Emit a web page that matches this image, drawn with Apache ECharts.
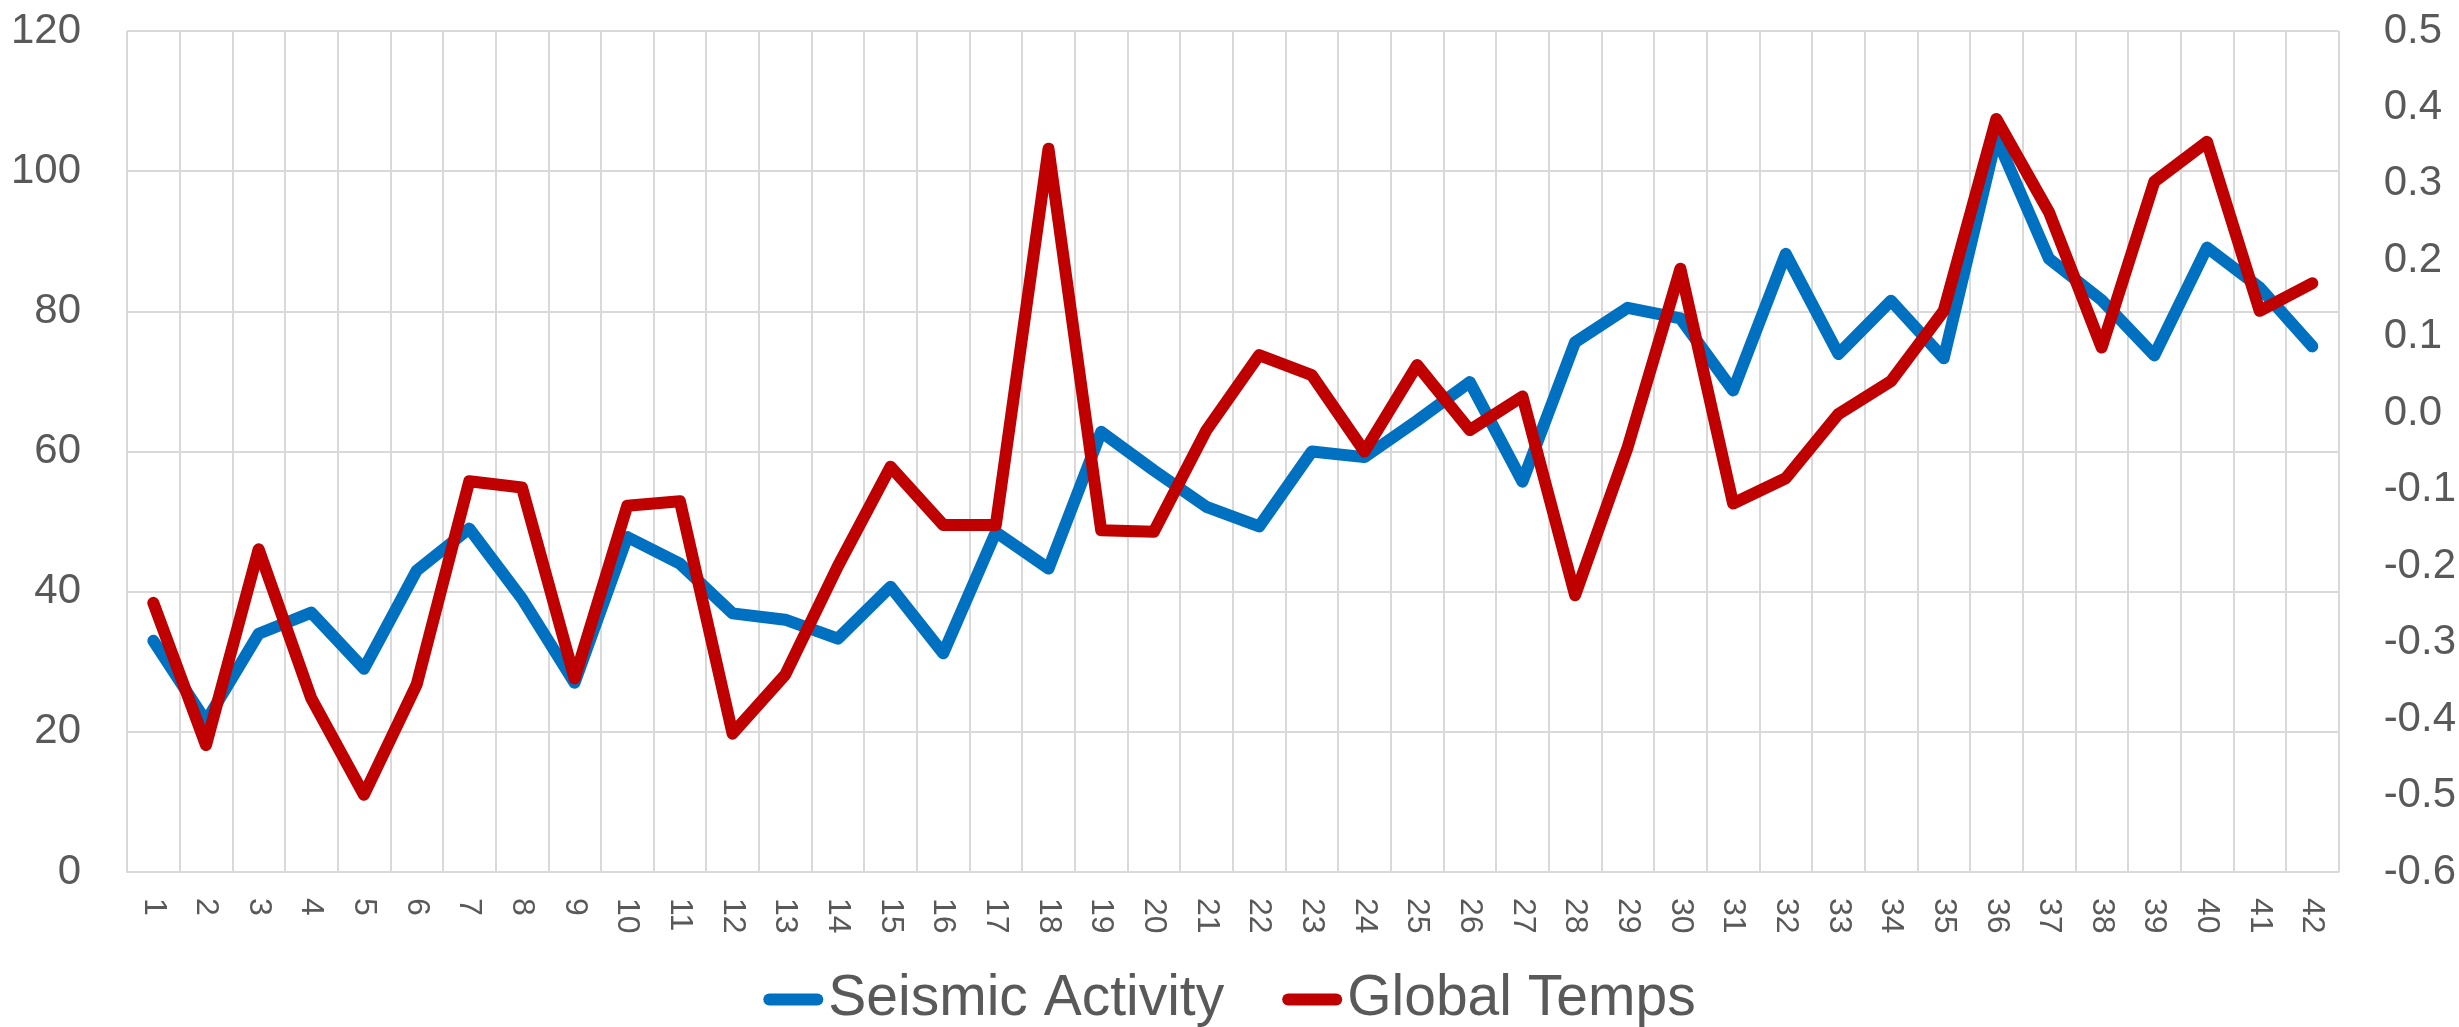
<!DOCTYPE html>
<html>
<head>
<meta charset="utf-8">
<script src="https://cdn.jsdelivr.net/npm/echarts@6/dist/echarts.min.js"></script>
<style>
  html, body { margin: 0; padding: 0; background: #ffffff; }
  #chart { width: 2459px; height: 1027px; }
</style>
</head>
<body>
<div id="chart"></div>
<script>
const categories = Array.from({ length: 42 }, (_, i) => String(i + 1));
const seismicActivity = [
  33, 21.5, 34, 37, 29, 43, 49, 39, 27, 47.8, 44, 36.9, 36, 33.3, 40.7, 31.2, 48.5, 43.3,
  62.8, 57.3, 52.1, 49.3, 60, 59.2, 64.4, 69.9, 55.7, 75.6, 80.5, 79, 68.7, 88.2,
  73.9, 81.5, 73.3, 104.8, 87.5, 81.6, 73.7, 89.1, 83.4, 75
];
const globalTemps = [
  -0.248, -0.434, -0.178, -0.373, -0.499, -0.355, -0.089, -0.097, -0.347, -0.121, -0.115,
  -0.419, -0.342, -0.2, -0.07, -0.146, -0.146, 0.346, -0.153, -0.155, -0.022, 0.076,
  0.05, -0.05, 0.063, -0.022, 0.022, -0.238, -0.044, 0.189, -0.118, -0.085, -0.001,
  0.042, 0.134, 0.385, 0.263, 0.086, 0.303, 0.355, 0.134, 0.17
];
const seriesNames = ['Seismic Activity', 'Global Temps'];

const FONT = "'Liberation Sans', Arial, sans-serif";
const TXT = '#595959';
const GRID = '#d9d9d9';

const chart = echarts.init(document.getElementById('chart'), null, { renderer: 'canvas' });
chart.setOption({
  animation: false,
  backgroundColor: '#ffffff',
  grid: { left: 127, right: 120, top: 31, bottom: 155, containLabel: false },
  legend: {
    data: seriesNames,
    left: 'center',
    top: 966,
    itemWidth: 60,
    itemHeight: 12,
    itemGap: 58,
    icon: 'path://M6,0 L54,0 A6,6 0 0 1 54,12 L6,12 A6,6 0 0 1 6,0 Z',
    textStyle: { fontFamily: FONT, fontSize: 57, color: TXT, padding: [0, 0, 0, 0] }
  },
  xAxis: {
    type: 'category',
    data: categories,
    boundaryGap: true,
    axisLine: { show: true, lineStyle: { color: GRID, width: 2 } },
    axisTick: { show: false },
    splitLine: { show: true, interval: 0, lineStyle: { color: GRID, width: 2 } },
    axisLabel: {
      interval: 0,
      rotate: -90,
      margin: 26,
      fontFamily: FONT,
      fontSize: 32,
      color: TXT
    }
  },
  yAxis: [
    {
      type: 'value',
      min: 0,
      max: 120,
      interval: 20,
      axisLine: { show: false },
      axisTick: { show: false },
      splitLine: { show: true, lineStyle: { color: GRID, width: 2 } },
      axisLabel: { margin: 46, fontFamily: FONT, fontSize: 42, color: TXT }
    },
    {
      type: 'value',
      min: -0.6,
      max: 0.5,
      interval: 0.1,
      axisLine: { show: false },
      axisTick: { show: false },
      splitLine: { show: false },
      axisLabel: {
        margin: 45,
        fontFamily: FONT,
        fontSize: 42,
        color: TXT,
        formatter: v => (Math.round(v * 10) / 10).toFixed(1)
      }
    }
  ],
  series: [
    {
      name: seriesNames[0],
      type: 'line',
      yAxisIndex: 0,
      data: seismicActivity,
      showSymbol: false,
      symbol: 'none',
      color: '#0070C0',
      lineStyle: { color: '#0070C0', width: 12, cap: 'round', join: 'round' },
      z: 2
    },
    {
      name: seriesNames[1],
      type: 'line',
      yAxisIndex: 1,
      data: globalTemps,
      showSymbol: false,
      symbol: 'none',
      color: '#C00000',
      lineStyle: { color: '#C00000', width: 12, cap: 'round', join: 'round' },
      z: 3
    }
  ]
});
</script>
</body>
</html>
